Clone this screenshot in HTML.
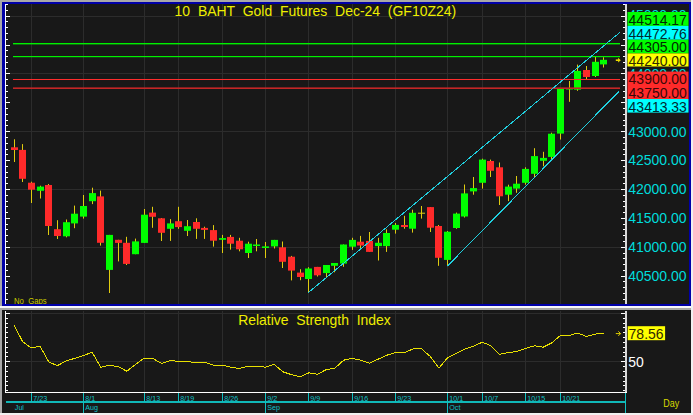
<!DOCTYPE html><html><head><meta charset="utf-8"><style>html,body{margin:0;padding:0;background:#a8a8a8;overflow:hidden}svg{display:block}text{font-family:"Liberation Sans",sans-serif}</style></head><body>
<svg width="693" height="415" viewBox="0 0 693 415">
<rect x="0" y="0" width="693" height="415" fill="#a8a8a8"/>
<rect x="691" y="0" width="2" height="415" fill="#f0f0f0"/>
<rect x="0" y="413" width="693" height="2" fill="#f0f0f0"/>
<rect x="2" y="2" width="689" height="304" fill="#0000a8"/>
<rect x="5" y="4" width="684" height="300" fill="#181818"/>
<rect x="0" y="306" width="691" height="2" fill="#f8f8f8"/>
<rect x="2" y="310" width="689" height="103" fill="#181818"/>
<path d="M6 16.5H625 M6 73.5H625 M6 131.5H625 M6 189.5H625 M6 247.5H625 M31.5 4V304 M83.5 4V304 M144.5 4V304 M178.5 4V304 M222.5 4V304 M265.5 4V304 M308.5 4V304 M352.5 4V304 M395.5 4V304 M447.5 4V304 M482.5 4V304 M525.5 4V304 M560.5 4V304" stroke="#2c2c2c" stroke-width="1" fill="none" shape-rendering="crispEdges"/>
<path d="M6 313.5H625 M6 361.5H625 M31.5 311V392 M83.5 311V392 M144.5 311V392 M178.5 311V392 M222.5 311V392 M265.5 311V392 M308.5 311V392 M352.5 311V392 M395.5 311V392 M447.5 311V392 M482.5 311V392 M525.5 311V392 M560.5 311V392" stroke="#2c2c2c" stroke-width="1" fill="none" shape-rendering="crispEdges"/>
<path d="M5 299.5h3 M626 299.5h-3 M5 293.5h3 M626 293.5h-3 M5 287.5h3 M626 287.5h-3 M5 281.5h3 M626 281.5h-3 M5 276.5h5 M626 276.5h-5 M5 270.5h3 M626 270.5h-3 M5 264.5h3 M626 264.5h-3 M5 258.5h3 M626 258.5h-3 M5 253.5h3 M626 253.5h-3 M5 247.5h5 M626 247.5h-5 M5 241.5h3 M626 241.5h-3 M5 235.5h3 M626 235.5h-3 M5 229.5h3 M626 229.5h-3 M5 224.5h3 M626 224.5h-3 M5 218.5h5 M626 218.5h-5 M5 212.5h3 M626 212.5h-3 M5 206.5h3 M626 206.5h-3 M5 201.5h3 M626 201.5h-3 M5 195.5h3 M626 195.5h-3 M5 189.5h5 M626 189.5h-5 M5 183.5h3 M626 183.5h-3 M5 177.5h3 M626 177.5h-3 M5 172.5h3 M626 172.5h-3 M5 166.5h3 M626 166.5h-3 M5 160.5h5 M626 160.5h-5 M5 154.5h3 M626 154.5h-3 M5 149.5h3 M626 149.5h-3 M5 143.5h3 M626 143.5h-3 M5 137.5h3 M626 137.5h-3 M5 131.5h5 M626 131.5h-5 M5 125.5h3 M626 125.5h-3 M5 120.5h3 M626 120.5h-3 M5 114.5h3 M626 114.5h-3 M5 108.5h3 M626 108.5h-3 M5 102.5h5 M626 102.5h-5 M5 97.5h3 M626 97.5h-3 M5 91.5h3 M626 91.5h-3 M5 85.5h3 M626 85.5h-3 M5 79.5h3 M626 79.5h-3 M5 73.5h5 M626 73.5h-5 M5 68.5h3 M626 68.5h-3 M5 62.5h3 M626 62.5h-3 M5 56.5h3 M626 56.5h-3 M5 50.5h3 M626 50.5h-3 M5 45.5h5 M626 45.5h-5 M5 39.5h3 M626 39.5h-3 M5 33.5h3 M626 33.5h-3 M5 27.5h3 M626 27.5h-3 M5 21.5h3 M626 21.5h-3 M5 16.5h5 M626 16.5h-5 M5 10.5h3 M626 10.5h-3 M5 4.5h3 M626 4.5h-3" stroke="#ffffff" stroke-width="1" fill="none" shape-rendering="crispEdges"/>
<rect x="5" y="4" width="1" height="300" fill="#ffffff"/>
<rect x="625" y="4" width="2" height="300" fill="#d8d8d8"/>
<path d="M5 313.5h5 M626 313.5h-5 M5 318.5h3 M626 318.5h-3 M5 323.5h3 M626 323.5h-3 M5 327.5h3 M626 327.5h-3 M5 332.5h3 M626 332.5h-3 M5 337.5h3 M626 337.5h-3 M5 342.5h3 M626 342.5h-3 M5 347.5h3 M626 347.5h-3 M5 352.5h3 M626 352.5h-3 M5 356.5h3 M626 356.5h-3 M5 361.5h5 M626 361.5h-5 M5 366.5h3 M626 366.5h-3 M5 371.5h3 M626 371.5h-3 M5 376.5h3 M626 376.5h-3 M5 381.5h3 M626 381.5h-3 M5 385.5h3 M626 385.5h-3 M5 390.5h3 M626 390.5h-3" stroke="#ffffff" stroke-width="1" fill="none" shape-rendering="crispEdges"/>
<rect x="5" y="311" width="1" height="82" fill="#ffffff"/>
<rect x="625" y="311" width="2" height="82" fill="#d8d8d8"/>
<rect x="5" y="392" width="622" height="1" fill="#ffffff"/>
<rect x="14" y="139.3" width="1" height="22.7" fill="#e0cc10"/>
<rect x="11" y="147.3" width="7" height="2.7" fill="#ff2a2a"/>
<rect x="22" y="144.1" width="1" height="37.9" fill="#e0cc10"/>
<rect x="19" y="149.9" width="7" height="28.9" fill="#ff2a2a"/>
<rect x="31" y="181.7" width="1" height="21.3" fill="#e0cc10"/>
<rect x="28" y="182.7" width="7" height="7.0" fill="#ff2a2a"/>
<rect x="40" y="185.7" width="1" height="12.8" fill="#e0cc10"/>
<rect x="37" y="186.6" width="7" height="4.2" fill="#00ff00"/>
<rect x="48" y="184.0" width="1" height="51.0" fill="#e0cc10"/>
<rect x="45" y="185.0" width="7" height="41.0" fill="#ff2a2a"/>
<rect x="57" y="220.2" width="1" height="18.8" fill="#e0cc10"/>
<rect x="54" y="229.2" width="7" height="6.8" fill="#ff2a2a"/>
<rect x="66" y="219.5" width="1" height="17.8" fill="#e0cc10"/>
<rect x="63" y="222.2" width="7" height="14.1" fill="#00ff00"/>
<rect x="74" y="205.6" width="1" height="22.6" fill="#e0cc10"/>
<rect x="71" y="213.7" width="7" height="9.7" fill="#00ff00"/>
<rect x="83" y="195.0" width="1" height="23.6" fill="#e0cc10"/>
<rect x="80" y="206.0" width="7" height="10.6" fill="#00ff00"/>
<rect x="92" y="187.7" width="1" height="16.4" fill="#e0cc10"/>
<rect x="89" y="193.1" width="7" height="8.1" fill="#00ff00"/>
<rect x="100" y="190.6" width="1" height="55.0" fill="#e0cc10"/>
<rect x="97" y="196.4" width="7" height="46.4" fill="#ff2a2a"/>
<rect x="109" y="234.9" width="1" height="58.1" fill="#e0cc10"/>
<rect x="106" y="234.9" width="7" height="35.0" fill="#00ff00"/>
<rect x="118" y="239.8" width="1" height="21.6" fill="#e0cc10"/>
<rect x="115" y="239.8" width="7" height="3.1" fill="#ff2a2a"/>
<rect x="126" y="236.8" width="1" height="28.2" fill="#e0cc10"/>
<rect x="123" y="242.8" width="7" height="21.1" fill="#ff2a2a"/>
<rect x="135" y="238.6" width="1" height="15.6" fill="#e0cc10"/>
<rect x="132" y="241.4" width="7" height="12.8" fill="#00ff00"/>
<rect x="144" y="209.0" width="1" height="33.9" fill="#e0cc10"/>
<rect x="141" y="214.7" width="7" height="28.2" fill="#00ff00"/>
<rect x="152" y="206.8" width="1" height="21.0" fill="#e0cc10"/>
<rect x="149" y="212.6" width="7" height="4.2" fill="#ff2a2a"/>
<rect x="161" y="218.0" width="1" height="23.0" fill="#e0cc10"/>
<rect x="158" y="218.3" width="7" height="14.5" fill="#ff2a2a"/>
<rect x="170" y="219.1" width="1" height="21.8" fill="#e0cc10"/>
<rect x="167" y="223.4" width="7" height="5.4" fill="#00ff00"/>
<rect x="178" y="206.8" width="1" height="22.0" fill="#e0cc10"/>
<rect x="175" y="221.2" width="7" height="5.9" fill="#ff2a2a"/>
<rect x="187" y="220.0" width="1" height="16.0" fill="#e0cc10"/>
<rect x="184" y="226.2" width="7" height="4.6" fill="#00ff00"/>
<rect x="196" y="218.3" width="1" height="20.6" fill="#e0cc10"/>
<rect x="193" y="222.0" width="7" height="6.8" fill="#ff2a2a"/>
<rect x="204" y="226.7" width="1" height="12.2" fill="#e0cc10"/>
<rect x="201" y="227.9" width="7" height="2.0" fill="#ff2a2a"/>
<rect x="213" y="225.1" width="1" height="21.5" fill="#e0cc10"/>
<rect x="210" y="230.1" width="7" height="10.6" fill="#ff2a2a"/>
<rect x="222" y="234.9" width="1" height="18.1" fill="#e0cc10"/>
<rect x="219" y="238.1" width="7" height="1.7" fill="#00ff00"/>
<rect x="230" y="234.9" width="1" height="14.7" fill="#e0cc10"/>
<rect x="227" y="236.9" width="7" height="6.8" fill="#ff2a2a"/>
<rect x="239" y="237.8" width="1" height="13.5" fill="#e0cc10"/>
<rect x="236" y="240.7" width="7" height="8.6" fill="#ff2a2a"/>
<rect x="248" y="241.7" width="1" height="16.3" fill="#e0cc10"/>
<rect x="245" y="243.7" width="7" height="9.3" fill="#00ff00"/>
<rect x="256" y="239.0" width="1" height="12.3" fill="#e0cc10"/>
<rect x="253" y="244.5" width="7" height="1.5" fill="#00ff00"/>
<rect x="265" y="242.0" width="1" height="16.0" fill="#e0cc10"/>
<rect x="262" y="246.4" width="7" height="1.6" fill="#00ff00"/>
<rect x="274" y="239.9" width="1" height="8.6" fill="#e0cc10"/>
<rect x="271" y="239.9" width="7" height="6.5" fill="#00ff00"/>
<rect x="282" y="241.5" width="1" height="26.5" fill="#e0cc10"/>
<rect x="279" y="247.3" width="7" height="14.5" fill="#ff2a2a"/>
<rect x="291" y="255.9" width="1" height="24.5" fill="#e0cc10"/>
<rect x="288" y="256.7" width="7" height="13.9" fill="#ff2a2a"/>
<rect x="300" y="269.2" width="1" height="11.0" fill="#e0cc10"/>
<rect x="297" y="272.6" width="7" height="4.4" fill="#ff2a2a"/>
<rect x="308" y="267.2" width="1" height="25.3" fill="#e0cc10"/>
<rect x="305" y="268.5" width="7" height="10.5" fill="#00ff00"/>
<rect x="317" y="266.9" width="1" height="9.6" fill="#e0cc10"/>
<rect x="314" y="266.9" width="7" height="8.4" fill="#ff2a2a"/>
<rect x="326" y="265.0" width="1" height="12.3" fill="#e0cc10"/>
<rect x="323" y="265.0" width="7" height="8.1" fill="#00ff00"/>
<rect x="334" y="263.0" width="1" height="9.3" fill="#e0cc10"/>
<rect x="331" y="263.0" width="7" height="2.8" fill="#00ff00"/>
<rect x="343" y="244.5" width="1" height="22.3" fill="#e0cc10"/>
<rect x="340" y="244.5" width="7" height="19.1" fill="#00ff00"/>
<rect x="352" y="237.8" width="1" height="12.1" fill="#e0cc10"/>
<rect x="349" y="239.9" width="7" height="6.8" fill="#00ff00"/>
<rect x="360" y="235.9" width="1" height="12.1" fill="#e0cc10"/>
<rect x="357" y="241.7" width="7" height="3.8" fill="#ff2a2a"/>
<rect x="369" y="232.0" width="1" height="19.9" fill="#e0cc10"/>
<rect x="366" y="240.9" width="7" height="11.0" fill="#ff2a2a"/>
<rect x="378" y="237.8" width="1" height="22.7" fill="#e0cc10"/>
<rect x="375" y="242.8" width="7" height="3.3" fill="#00ff00"/>
<rect x="386" y="229.3" width="1" height="22.6" fill="#e0cc10"/>
<rect x="383" y="233.0" width="7" height="13.1" fill="#00ff00"/>
<rect x="395" y="223.0" width="1" height="10.6" fill="#e0cc10"/>
<rect x="392" y="224.9" width="7" height="4.8" fill="#00ff00"/>
<rect x="404" y="215.8" width="1" height="12.9" fill="#e0cc10"/>
<rect x="401" y="225.0" width="7" height="2.0" fill="#ff2a2a"/>
<rect x="412" y="209.7" width="1" height="22.9" fill="#e0cc10"/>
<rect x="409" y="212.8" width="7" height="15.9" fill="#00ff00"/>
<rect x="421" y="206.0" width="1" height="12.6" fill="#e0cc10"/>
<rect x="418" y="212.7" width="7" height="1" fill="#e0cc10"/>
<rect x="430" y="207.1" width="1" height="24.9" fill="#e0cc10"/>
<rect x="427" y="207.1" width="7" height="20.6" fill="#ff2a2a"/>
<rect x="438" y="225.0" width="1" height="40.8" fill="#e0cc10"/>
<rect x="435" y="226.0" width="7" height="31.8" fill="#ff2a2a"/>
<rect x="447" y="231.0" width="1" height="35.2" fill="#e0cc10"/>
<rect x="444" y="231.7" width="7" height="28.2" fill="#00ff00"/>
<rect x="456" y="212.6" width="1" height="16.2" fill="#e0cc10"/>
<rect x="453" y="213.6" width="7" height="14.4" fill="#00ff00"/>
<rect x="464" y="184.5" width="1" height="33.0" fill="#e0cc10"/>
<rect x="461" y="193.4" width="7" height="23.1" fill="#00ff00"/>
<rect x="473" y="177.0" width="1" height="17.7" fill="#e0cc10"/>
<rect x="470" y="188.1" width="7" height="3.3" fill="#00ff00"/>
<rect x="482" y="158.7" width="1" height="29.9" fill="#e0cc10"/>
<rect x="479" y="159.6" width="7" height="23.2" fill="#00ff00"/>
<rect x="490" y="159.6" width="1" height="17.4" fill="#e0cc10"/>
<rect x="487" y="161.0" width="7" height="9.8" fill="#ff2a2a"/>
<rect x="499" y="162.5" width="1" height="42.5" fill="#e0cc10"/>
<rect x="496" y="167.3" width="7" height="29.0" fill="#ff2a2a"/>
<rect x="508" y="184.7" width="1" height="16.4" fill="#e0cc10"/>
<rect x="505" y="186.6" width="7" height="8.1" fill="#00ff00"/>
<rect x="516" y="176.0" width="1" height="16.8" fill="#e0cc10"/>
<rect x="513" y="183.7" width="7" height="4.9" fill="#00ff00"/>
<rect x="525" y="167.3" width="1" height="17.4" fill="#e0cc10"/>
<rect x="522" y="168.9" width="7" height="13.9" fill="#00ff00"/>
<rect x="534" y="148.2" width="1" height="29.3" fill="#e0cc10"/>
<rect x="531" y="156.1" width="7" height="17.7" fill="#00ff00"/>
<rect x="543" y="151.8" width="1" height="14.5" fill="#e0cc10"/>
<rect x="540" y="157.9" width="7" height="2.9" fill="#00ff00"/>
<rect x="551" y="132.7" width="1" height="27.1" fill="#e0cc10"/>
<rect x="548" y="133.7" width="7" height="23.2" fill="#00ff00"/>
<rect x="560" y="88.0" width="1" height="51.5" fill="#e0cc10"/>
<rect x="557" y="88.6" width="7" height="45.0" fill="#00ff00"/>
<rect x="569" y="81.0" width="1" height="20.8" fill="#e0cc10"/>
<rect x="566" y="88.0" width="7" height="1.5" fill="#00ff00"/>
<rect x="577" y="64.6" width="1" height="26.2" fill="#e0cc10"/>
<rect x="574" y="70.9" width="7" height="18.8" fill="#00ff00"/>
<rect x="586" y="66.0" width="1" height="13.0" fill="#e0cc10"/>
<rect x="583" y="70.0" width="7" height="7.0" fill="#ff2a2a"/>
<rect x="595" y="57.0" width="1" height="20.0" fill="#e0cc10"/>
<rect x="592" y="61.8" width="7" height="14.2" fill="#00ff00"/>
<rect x="603" y="57.2" width="1" height="10.3" fill="#e0cc10"/>
<rect x="600" y="59.8" width="7" height="4.6" fill="#00ff00"/>
<rect x="13" y="43" width="607" height="1.4" fill="#00f000"/>
<rect x="13" y="56" width="607" height="1.2" fill="#00f000"/>
<rect x="13" y="79" width="607" height="1" fill="#ff2c2c"/>
<rect x="13" y="87.4" width="607" height="1.6" fill="#c42626"/>
<path d="M308.5 292.5L619.6 32.6M447.3 266.2L618.8 91.5" stroke="#20d0e0" stroke-width="1" fill="none" shape-rendering="crispEdges"/>
<path d="M615.8 60.2H619.1999999999999" stroke="#e8d800" stroke-width="1.6" fill="none"/><path d="M618.0999999999999 57.800000000000004L620.8 60.2L618.0999999999999 62.6Z" fill="#e8d800"/>
<path d="M615.8 333.6H620.5M618.3 331.3L620.6 333.6L618.3 335.9" stroke="#e0d000" stroke-width="1" fill="none"/>
<polyline points="14.1,325.2 22.7,341.7 31.4,348.0 40.1,346.2 48.8,362.0 57.4,365.6 66.1,361.0 74.8,358.3 83.4,355.6 92.1,352.2 100.8,367.3 109.5,365.3 118.1,366.6 126.8,371.2 135.5,364.5 144.1,358.2 152.8,358.5 161.5,363.4 170.1,360.5 178.8,361.4 187.5,361.7 196.2,362.4 204.8,362.4 213.5,365.3 222.2,365.3 230.8,367.1 239.5,368.5 248.2,366.3 256.9,366.3 265.5,367.2 274.2,364.3 282.9,371.8 291.5,374.7 300.2,376.8 308.9,372.8 317.6,374.3 326.2,369.6 334.9,368.2 343.6,360.2 352.2,358.3 360.9,360.2 369.6,363.2 378.3,359.1 386.9,355.2 395.6,352.5 404.3,352.8 412.9,348.9 421.6,348.9 430.3,356.5 438.9,368.0 447.6,357.8 456.3,353.3 465.0,349.0 473.6,346.1 482.3,342.2 491.0,345.8 499.6,354.3 508.3,352.6 517.0,351.4 525.7,348.4 534.3,345.8 543.0,347.2 551.7,342.9 560.3,335.5 569.0,335.5 577.7,333.0 586.4,336.5 595.0,334.2 603.7,333.0" stroke="#e8e000" stroke-width="1" fill="none" shape-rendering="crispEdges"/>
<text transform="translate(628.30,20.36) scale(1.02,1.08)" font-size="13.7" fill="#00dcdc" xml:space="preserve" >45000.00</text>
<text transform="translate(628.30,49.84) scale(1.02,1.08)" font-size="13.7" fill="#00dcdc" xml:space="preserve" >44500.00</text>
<text transform="translate(628.30,78.73) scale(1.02,1.08)" font-size="13.7" fill="#00dcdc" xml:space="preserve" >44000.00</text>
<text transform="translate(628.30,107.61) scale(1.02,1.08)" font-size="13.7" fill="#00dcdc" xml:space="preserve" >43500.00</text>
<text transform="translate(628.30,136.50) scale(1.02,1.08)" font-size="13.7" fill="#00dcdc" xml:space="preserve" >43000.00</text>
<text transform="translate(628.30,165.38) scale(1.02,1.08)" font-size="13.7" fill="#00dcdc" xml:space="preserve" >42500.00</text>
<text transform="translate(628.30,194.27) scale(1.02,1.08)" font-size="13.7" fill="#00dcdc" xml:space="preserve" >42000.00</text>
<text transform="translate(628.30,223.16) scale(1.02,1.08)" font-size="13.7" fill="#00dcdc" xml:space="preserve" >41500.00</text>
<text transform="translate(628.30,252.04) scale(1.02,1.08)" font-size="13.7" fill="#00dcdc" xml:space="preserve" >41000.00</text>
<text transform="translate(628.30,280.93) scale(1.02,1.08)" font-size="13.7" fill="#00dcdc" xml:space="preserve" >40500.00</text>
<rect x="627.5" y="12.0" width="61" height="13.90" fill="#00ff00"/>
<rect x="627.5" y="25.9" width="61" height="13.80" fill="#00ffff"/>
<rect x="627.5" y="39.7" width="61" height="13.70" fill="#00ff00"/>
<rect x="627.5" y="53.4" width="61" height="13.10" fill="#ffff00"/>
<rect x="627.5" y="71.6" width="61" height="27.60" fill="#ff2a2a"/>
<rect x="627.5" y="99.0" width="61" height="13.60" fill="#00ffff"/>
<text transform="translate(628.60,24.75) scale(1.02,1.08)" font-size="13.7" fill="#002800" xml:space="preserve" >44514.17</text>
<text transform="translate(628.60,38.65) scale(1.02,1.08)" font-size="13.7" fill="#002830" xml:space="preserve" >44472.76</text>
<text transform="translate(628.60,52.45) scale(1.02,1.08)" font-size="13.7" fill="#002800" xml:space="preserve" >44305.00</text>
<text transform="translate(628.60,66.15) scale(1.02,1.08)" font-size="13.7" fill="#302800" xml:space="preserve" >44240.00</text>
<text transform="translate(628.60,84.35) scale(1.02,1.08)" font-size="13.7" fill="#3a0808" xml:space="preserve" >43900.00</text>
<text transform="translate(628.60,98.05) scale(1.02,1.08)" font-size="13.7" fill="#3a0808" xml:space="preserve" >43750.00</text>
<text transform="translate(628.60,111.75) scale(1.02,1.08)" font-size="13.7" fill="#002830" xml:space="preserve" >43413.33</text>
<rect x="627.7" y="326.2" width="37.4" height="14" fill="#ffff00"/>
<text transform="translate(628.60,338.60) scale(1.02,1.08)" font-size="13.7" fill="#302800" xml:space="preserve" >78.56</text>
<text transform="translate(628.30,367.00) scale(1.02,1.08)" font-size="13.7" fill="#ffffff" xml:space="preserve" >50</text>
<text transform="translate(174.60,16.40) scale(0.995,1.05)" font-size="14.05" fill="#eeee00" xml:space="preserve" >10  BAHT  Gold  Futures  Dec-24  (GF10Z24)</text>
<text transform="translate(238.20,324.70) scale(1,1.06)" font-size="13.95" fill="#eeee00" xml:space="preserve" >Relative  Strength  Index</text>
<rect x="12" y="296" width="36" height="8" fill="#181818"/>
<svg x="0" y="0" width="693" height="304" overflow="hidden"><text transform="translate(14.00,303.50) scale(0.9,1.0)" font-size="8.6" fill="#c8c800" xml:space="preserve" >No  Gaps</text></svg>
<text transform="translate(663.30,406.60) scale(0.9,1.05)" font-size="10" fill="#d8d800" xml:space="preserve" >Day</text>
<rect x="6" y="401" width="620" height="2" fill="#10b8b8"/>
<path d="M31.5 393V402 M83.5 393V402 M144.5 393V402 M178.5 393V402 M222.5 393V402 M265.5 393V402 M308.5 393V402 M352.5 393V402 M395.5 393V402 M447.5 393V402 M482.5 393V402 M525.5 393V402 M560.5 393V402 M83.5 393V413 M265.5 393V413 M447.5 393V413 M625.5 393V413" stroke="#10c0c0" stroke-width="1" fill="none" shape-rendering="crispEdges"/>
<text transform="translate(33.30,401.20) scale(0.92,1.0)" font-size="7.8" fill="#10c0c8" xml:space="preserve" >7/23</text>
<text transform="translate(85.30,401.20) scale(0.92,1.0)" font-size="7.8" fill="#10c0c8" xml:space="preserve" >8/1</text>
<text transform="translate(146.30,401.20) scale(0.92,1.0)" font-size="7.8" fill="#10c0c8" xml:space="preserve" >8/13</text>
<text transform="translate(180.30,401.20) scale(0.92,1.0)" font-size="7.8" fill="#10c0c8" xml:space="preserve" >8/19</text>
<text transform="translate(224.30,401.20) scale(0.92,1.0)" font-size="7.8" fill="#10c0c8" xml:space="preserve" >8/26</text>
<text transform="translate(267.30,401.20) scale(0.92,1.0)" font-size="7.8" fill="#10c0c8" xml:space="preserve" >9/2</text>
<text transform="translate(310.30,401.20) scale(0.92,1.0)" font-size="7.8" fill="#10c0c8" xml:space="preserve" >9/9</text>
<text transform="translate(354.30,401.20) scale(0.92,1.0)" font-size="7.8" fill="#10c0c8" xml:space="preserve" >9/16</text>
<text transform="translate(397.30,401.20) scale(0.92,1.0)" font-size="7.8" fill="#10c0c8" xml:space="preserve" >9/23</text>
<text transform="translate(449.30,401.20) scale(0.92,1.0)" font-size="7.8" fill="#10c0c8" xml:space="preserve" >10/1</text>
<text transform="translate(484.30,401.20) scale(0.92,1.0)" font-size="7.8" fill="#10c0c8" xml:space="preserve" >10/7</text>
<text transform="translate(527.30,401.20) scale(0.92,1.0)" font-size="7.8" fill="#10c0c8" xml:space="preserve" >10/15</text>
<text transform="translate(562.30,401.20) scale(0.92,1.0)" font-size="7.8" fill="#10c0c8" xml:space="preserve" >10/21</text>
<text transform="translate(14.80,410.30) scale(0.92,1.0)" font-size="7.8" fill="#10c0c8" xml:space="preserve" >Jul</text>
<text transform="translate(85.30,410.30) scale(0.92,1.0)" font-size="7.8" fill="#10c0c8" xml:space="preserve" >Aug</text>
<text transform="translate(267.30,410.30) scale(0.92,1.0)" font-size="7.8" fill="#10c0c8" xml:space="preserve" >Sep</text>
<text transform="translate(449.30,410.30) scale(0.92,1.0)" font-size="7.8" fill="#10c0c8" xml:space="preserve" >Oct</text>
</svg></body></html>
